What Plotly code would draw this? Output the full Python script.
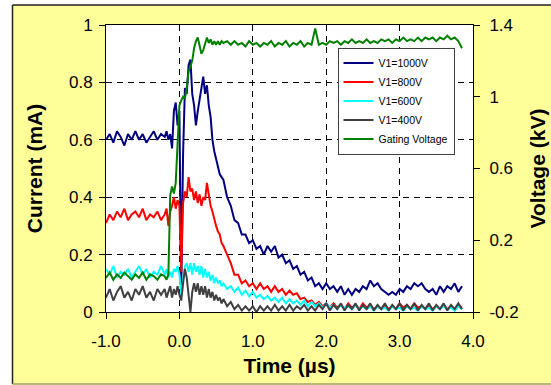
import numpy as np
import plotly.graph_objects as go

# ---- time grid (µs): coarse, fine around the gating edge, coarse ----
t = np.concatenate([
    np.arange(-1000, -200, 50),
    np.arange(-200, 600, 25),
    np.arange(600, 3851, 50),
]) / 1000.0

# ---- current traces (mA) ----
i1000 = [0.60, 0.62, 0.59, 0.63, 0.61, 0.58, 0.62, 0.60, 0.63, 0.60, 0.62, 0.59, 0.61, 0.63, 0.60, 0.62,
         0.61, 0.63, 0.60, 0.62, 0.57, 0.70, 0.73, 0.65, 0.70, 0.08, 0.55, 0.78, 0.76, 0.86, 0.88, 0.76,
         0.72, 0.65, 0.70, 0.75, 0.78, 0.82, 0.76, 0.79, 0.72, 0.68, 0.60, 0.56, 0.53, 0.51, 0.48, 0.47,
         0.46, 0.40, 0.37, 0.32, 0.31, 0.27, 0.27, 0.24,
         0.25, 0.22, 0.23, 0.20, 0.23, 0.21, 0.23, 0.19, 0.20, 0.17, 0.18, 0.15, 0.16, 0.13, 0.14, 0.11, 0.12, 0.09, 0.10, 0.08,
         0.10, 0.08, 0.09, 0.07, 0.09, 0.06, 0.08, 0.06, 0.08, 0.07, 0.09, 0.08, 0.11, 0.09, 0.10, 0.08, 0.07, 0.06, 0.07, 0.06,
         0.08, 0.07, 0.09, 0.08, 0.10, 0.09, 0.10, 0.08, 0.07, 0.08, 0.06, 0.09, 0.07, 0.09, 0.08, 0.10, 0.07, 0.09]

i800 = [0.31, 0.34, 0.32, 0.35, 0.33, 0.36, 0.32, 0.34, 0.35, 0.33, 0.36, 0.32, 0.34, 0.33, 0.35, 0.32,
        0.34, 0.36, 0.30, 0.35, 0.37, 0.40, 0.36, 0.39, 0.37, 0.14, 0.38, 0.42, 0.40, 0.47, 0.42, 0.43,
        0.39, 0.42, 0.38, 0.41, 0.37, 0.40, 0.39, 0.45, 0.41, 0.37, 0.35, 0.32, 0.30, 0.28, 0.27, 0.24,
        0.23, 0.20, 0.17, 0.13, 0.13, 0.10, 0.11, 0.09,
        0.10, 0.08, 0.10, 0.08, 0.09, 0.07, 0.09, 0.07, 0.08, 0.06, 0.075, 0.06, 0.065, 0.045, 0.05, 0.035, 0.04, 0.025, 0.035, 0.02,
        0.03, 0.015, 0.03, 0.015, 0.025, 0.01, 0.03, 0.015, 0.025, 0.01, 0.03, 0.015, 0.025, 0.01, 0.02, 0.01, 0.025, 0.01, 0.02, 0.01,
        0.03, 0.015, 0.025, 0.01, 0.03, 0.015, 0.02, 0.01, 0.025, 0.01, 0.02, 0.01, 0.025, 0.01, 0.02, 0.01, 0.025, 0.015]

i600 = [0.15, 0.13, 0.16, 0.12, 0.14, 0.13, 0.15, 0.12, 0.14, 0.16, 0.13, 0.15, 0.12, 0.14, 0.13, 0.16,
        0.13, 0.15, 0.12, 0.14, 0.12, 0.15, 0.14, 0.16, 0.13, 0.06, 0.11, 0.16, 0.17, 0.14, 0.17, 0.13,
        0.17, 0.14, 0.16, 0.13, 0.16, 0.12, 0.15, 0.12, 0.14, 0.11, 0.13, 0.10, 0.12, 0.10, 0.11, 0.09,
        0.10, 0.08, 0.09, 0.07, 0.085, 0.06, 0.075, 0.055,
        0.07, 0.05, 0.06, 0.045, 0.055, 0.04, 0.05, 0.035, 0.05, 0.03, 0.045, 0.03, 0.04, 0.025, 0.04, 0.02, 0.035, 0.02, 0.03, 0.015,
        0.03, 0.015, 0.025, 0.01, 0.025, 0.015, 0.02, 0.01, 0.025, 0.01, 0.02, 0.01, 0.02, 0.005, 0.02, 0.01, 0.015, 0.005, 0.02, 0.01,
        0.015, 0.005, 0.02, 0.01, 0.015, 0.005, 0.02, 0.01, 0.015, 0.005, 0.02, 0.01, 0.02, 0.01, 0.015, 0.005, 0.02, 0.01]

i400 = [0.05, 0.08, 0.04, 0.07, 0.09, 0.05, 0.07, 0.04, 0.08, 0.06, 0.09, 0.05, 0.07, 0.04, 0.08, 0.06,
        0.08, 0.05, 0.07, 0.09, 0.05, 0.08, 0.06, 0.09, 0.06, 0.04, 0.10, 0.15, 0.12, 0.06, 0.00, 0.07,
        0.10, 0.07, 0.10, 0.06, 0.09, 0.06, 0.09, 0.05, 0.08, 0.05, 0.07, 0.04, 0.06, 0.04, 0.05, 0.03,
        0.045, 0.02, 0.035, 0.01, 0.025, 0.005, 0.02, 0.005,
        0.02, 0.0, 0.02, 0.005, 0.02, 0.005, 0.025, 0.005, 0.02, 0.005, 0.025, 0.005, 0.02, 0.01, 0.025, 0.005, 0.02, 0.005, 0.025, 0.01,
        0.03, 0.005, 0.025, 0.01, 0.03, 0.005, 0.025, 0.01, 0.03, 0.005, 0.025, 0.01, 0.03, 0.005, 0.025, 0.01, 0.03, 0.005, 0.025, 0.01,
        0.03, 0.005, 0.025, 0.01, 0.03, 0.005, 0.025, 0.01, 0.03, 0.005, 0.025, 0.01, 0.03, 0.005, 0.025, 0.01, 0.03, 0.01]

# ---- gating voltage (kV), right axis ----
vgate = [-0.01, 0.02, -0.02, 0.01, -0.01, 0.02, 0.0, -0.02, 0.01, -0.01, 0.02, -0.02, 0.01, 0.0, -0.02, 0.01,
         0.0, -0.02, 0.01, 0.45, 0.50, 0.46, 0.52, 0.75, 0.95, 0.98, 1.00, 0.99, 1.05, 1.14, 1.17, 1.20,
         1.27, 1.31, 1.33, 1.28, 1.24, 1.26, 1.30, 1.33, 1.30, 1.32, 1.29, 1.31, 1.29, 1.31, 1.29, 1.31,
         1.30, 1.31, 1.29, 1.31, 1.29, 1.30, 1.28, 1.31,
         1.29, 1.30, 1.28, 1.30, 1.29, 1.31, 1.28, 1.30, 1.29, 1.31, 1.28, 1.30, 1.29, 1.31, 1.28, 1.30, 1.29, 1.38, 1.29, 1.30,
         1.29, 1.31, 1.30, 1.31, 1.29, 1.31, 1.30, 1.32, 1.30, 1.31, 1.30, 1.32, 1.30, 1.31, 1.30, 1.32, 1.31, 1.32, 1.30, 1.32,
         1.31, 1.33, 1.31, 1.32, 1.31, 1.33, 1.31, 1.33, 1.32, 1.33, 1.31, 1.33, 1.32, 1.34, 1.32, 1.33, 1.31, 1.27]

for arr in (i1000, i800, i600, i400, vgate):
    assert len(arr) == len(t), (len(arr), len(t))

x_ticks = [-1, 0, 1, 2, 3, 4]
x_labels = ["-1.0", "0.0", "1.0", "2.0", "3.0", "4.0"]
y_ticks = [0, 0.2, 0.4, 0.6, 0.8, 1.0]
y_labels = ["0", "0.2", "0.4", "0.6", "0.8", "1"]
y2_ticks = [-0.2, 0.2, 0.6, 1.0, 1.4]
y2_labels = ["-0.2", "0.2", "0.6", "1", "1.4"]

FONT = "Liberation Sans, Arial, sans-serif"

fig = go.Figure()
series = [
    ("V1=1000V", i1000, "#000080", "y"),
    ("V1=800V", i800, "#FF0000", "y"),
    ("V1=600V", i600, "#00FFFF", "y"),
    ("V1=400V", i400, "#404040", "y"),
    ("Gating Voltage", vgate, "#008000", "y2"),
]
for name, vals, col, ax in series:
    fig.add_trace(go.Scatter(x=t, y=vals, name=name, mode="lines", yaxis=ax,
                             line=dict(color=col, width=2)))

W, H = 551, 385
L, R, T, B = 106, 78, 25, 73
pw, ph = W - L - R, H - T - B

def px(xp):
    return (xp - L) / pw

def py(yp):
    return (H - B - yp) / ph

axis_common = dict(
    showline=True, linecolor="black", linewidth=1,
    ticks="outside", ticklen=6, tickcolor="black",
    tickfont=dict(family=FONT, size=17, color="black"),
    zeroline=False, automargin=False,
)
grid = dict(showgrid=True, gridcolor="black", gridwidth=1, griddash="6px,5px")

fig.update_layout(
    width=W, height=H,
    margin=dict(l=L, r=R, t=T, b=B, pad=0, autoexpand=False),
    paper_bgcolor="#FFFF99",
    plot_bgcolor="white",
    font=dict(family=FONT, color="black"),
    showlegend=True,
    legend=dict(
        x=px(396), xanchor="center", y=py(101), yanchor="middle",
        bgcolor="white", bordercolor="#404040", borderwidth=1,
        font=dict(family=FONT, size=10.5, color="black"),
        itemwidth=30, tracegroupgap=0,
    ),
    xaxis=dict(range=[-1, 4], tickvals=x_ticks, ticktext=x_labels, mirror=True,
               ticklabelstandoff=8,
               title=dict(text="Time (µs)", font=dict(family=FONT, size=21, weight="bold"), standoff=7),
               **axis_common, **grid),
    yaxis=dict(range=[0, 1], tickvals=y_ticks, ticktext=y_labels,
               ticklabelstandoff=3,
               title=dict(text="Current (mA)", font=dict(family=FONT, size=21, weight="bold"), standoff=20),
               **axis_common, **grid),
    yaxis2=dict(range=[-0.2, 1.4], tickvals=y2_ticks, ticktext=y2_labels,
                overlaying="y", side="right", showgrid=False, ticklabelstandoff=6,
                title=dict(text="Voltage (kV)", font=dict(family=FONT, size=21, weight="bold"), standoff=12),
                **axis_common),
    shapes=[
        dict(type="rect", xref="paper", yref="paper", x0=-0.4, x1=px(12), y0=-0.4, y1=1.3,
             fillcolor="white", line=dict(width=0), layer="below"),
        dict(type="rect", xref="paper", yref="paper", x0=-0.4, x1=1.4, y0=py(5), y1=1.3,
             fillcolor="white", line=dict(width=0), layer="below"),
        dict(type="line", xref="paper", yref="paper", x0=px(12.5), x1=1.4, y0=py(5), y1=py(5),
             line=dict(color="#222222", width=1.5), layer="below"),
        dict(type="line", xref="paper", yref="paper", x0=px(12.5), x1=px(12.5), y0=py(5), y1=py(384),
             line=dict(color="#222222", width=1.5), layer="below"),
        dict(type="line", xref="paper", yref="paper", x0=px(12.5), x1=1.4, y0=py(384), y1=py(384),
             line=dict(color="#A0A070", width=1.5), layer="below"),
    ],
)

fig.write_html(
    "out.html",
    config={"displayModeBar": False},
    post_script="document.body.style.margin='0';document.body.style.padding='0';",
)
